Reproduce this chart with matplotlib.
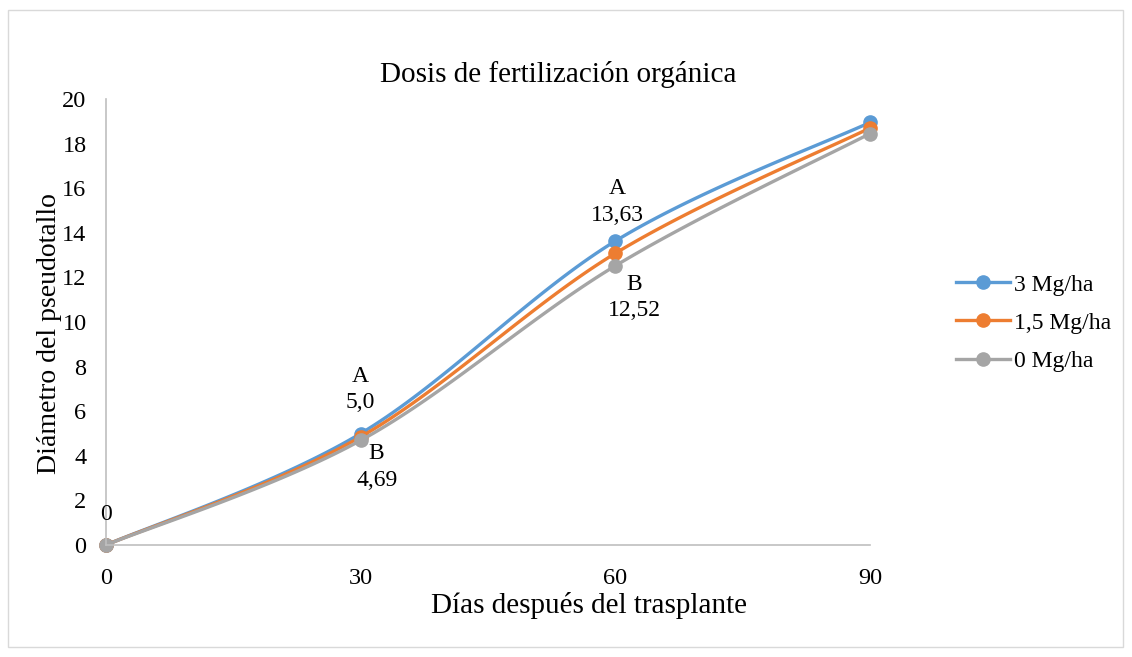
import matplotlib
matplotlib.use('Agg')
import matplotlib.pyplot as plt
import numpy as np
from matplotlib.patches import Rectangle

plt.rcParams['font.family'] = ['Liberation Serif', 'DejaVu Serif']

# datos
dias = [0, 30, 60, 90]
series = ['3 Mg/ha', '1,5 Mg/ha', '0 Mg/ha']
d_3 = [0, 5.0, 13.63, 18.95]
d_15 = [0, 4.85, 13.08, 18.7]
d_0 = [0, 4.69, 12.52, 18.45]
colores = ['#5B9BD5', '#ED7D31', '#A5A5A5']


def suavizar(x, y, n=40):
    # curva suavizada tipo Excel (bezier con tangentes catmull-rom)
    x = np.asarray(x, float)
    y = np.asarray(y, float)
    px = np.concatenate([[x[0]], x, [x[-1]]])
    py = np.concatenate([[y[0]], y, [y[-1]]])
    xs, ys = [], []
    t = np.linspace(0, 1, n)
    for i in range(len(x) - 1):
        p0 = np.array([px[i + 1], py[i + 1]])
        p3 = np.array([px[i + 2], py[i + 2]])
        c1 = p0 + (np.array([px[i + 2], py[i + 2]]) - np.array([px[i], py[i]])) / 6
        c2 = p3 - (np.array([px[i + 3], py[i + 3]]) - np.array([px[i + 1], py[i + 1]])) / 6
        b = ((1 - t) ** 3)[:, None] * p0 + (3 * (1 - t) ** 2 * t)[:, None] * c1 \
            + (3 * (1 - t) * t ** 2)[:, None] * c2 + (t ** 3)[:, None] * p3
        xs.extend(b[:, 0])
        ys.extend(b[:, 1])
    return xs, ys


fig = plt.figure(figsize=(11.32, 6.57), dpi=100)
fig.patches.append(Rectangle((8 / 1132, 10 / 657), 1115 / 1132, 637 / 657,
                             transform=fig.transFigure, fill=False,
                             edgecolor='#D9D9D9', linewidth=1))
ax = fig.add_axes([106 / 1132, 1 - 545 / 657, 764 / 1132, 446 / 657])

for nombre, vals, col in zip(series, [d_3, d_15, d_0], colores):
    sx, sy = suavizar(dias, vals)
    ax.plot(sx, sy, color=col, linewidth=2.4, solid_capstyle='round', clip_on=False)
    ax.plot(dias, vals, 'o', color=col, markersize=9.5, clip_on=False)
    ax.plot([], [], '-o', color=col, linewidth=2.4, markersize=9.5, label=nombre)

ax.set_xlim(0, 90)
ax.set_ylim(0, 20)
ax.set_xticks(dias)
ax.set_yticks(range(0, 21, 2))
for s in ['top', 'right']:
    ax.spines[s].set_visible(False)
for s in ['left', 'bottom']:
    ax.spines[s].set_color('#BFBFBF')
    ax.spines[s].set_linewidth(1.2)
ax.tick_params(length=0, labelsize=17.5)
ax.tick_params(axis='y', pad=14)
ax.tick_params(axis='x', pad=16.5)

fig.text(558 / 1132, 1 - 75 / 657, 'Dosis de fertilización orgánica',
         fontsize=21, ha='center', va='center')
ax.set_xlabel('Días después del trasplante', fontsize=21)
ax.xaxis.set_label_coords(0.632, -0.105)
ax.set_ylabel('Diámetro del pseudotallo', fontsize=20)
ax.yaxis.set_label_coords(-0.058, 0.475)

# etiquetas de datos
kw = dict(textcoords='offset pixels', ha='center', va='center', fontsize=17,
          annotation_clip=False)
ax.annotate('0', (dias[0], d_3[0]), xytext=(0, 30), **kw)
ax.annotate('A', (dias[1], d_3[1]), xytext=(0, 57), **kw)
ax.annotate('5,0', (dias[1], d_3[1]), xytext=(0, 31), **kw)
ax.annotate('B', (dias[1], d_0[1]), xytext=(16, -13), **kw)
ax.annotate('4,69', (dias[1], d_0[1]), xytext=(16, -40), **kw)
ax.annotate('A', (dias[2], d_3[2]), xytext=(2, 53), **kw)
ax.annotate('13,63', (dias[2], d_3[2]), xytext=(2, 26), **kw)
ax.annotate('B', (dias[2], d_0[2]), xytext=(19, -19), **kw)
ax.annotate('12,52', (dias[2], d_0[2]), xytext=(19, -45), **kw)

ax.legend(loc='center left', bbox_to_anchor=(956 / 1132, 1 - 323 / 657),
          bbox_transform=fig.transFigure, frameon=False, fontsize=17,
          handlelength=2.29, handletextpad=0.17, labelspacing=0.7,
          borderpad=0, borderaxespad=0)

fig.savefig('out.png', dpi=100, facecolor='white')
